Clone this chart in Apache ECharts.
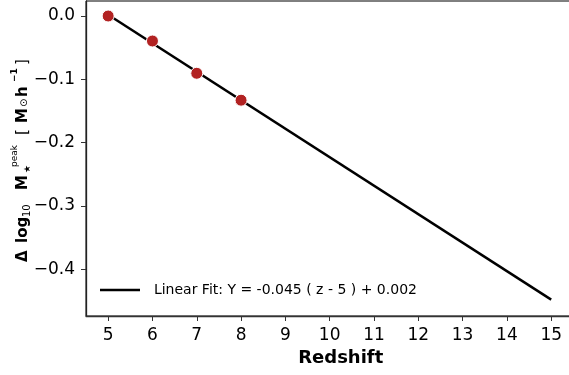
<!DOCTYPE html>
<html>
<head>
<meta charset="utf-8">
<script src="https://cdn.jsdelivr.net/npm/echarts@6/dist/echarts.min.js"></script>
<style>
html,body{margin:0;padding:0;background:#fff;overflow:hidden;}
#chart{width:596px;height:375px;}
</style>
</head>
<body>
<div id="chart"></div>
<script>
// ---- data ----
const redshift = [5, 6, 7, 8];
const deltaLogM = [0.0, -0.0395, -0.0905, -0.133];
const fitZ = [5, 15];
const fitY = [0.002, -0.448];
const xTickValues = [5, 6, 7, 8, 9, 10, 11, 12, 13, 14, 15];
const yTickValues = [0.0, -0.1, -0.2, -0.3, -0.4];
const fitLabel = 'Linear Fit: Y = -0.045 ( z - 5 ) + 0.002';
const xAxisTitle = 'Redshift';

const FONT = '"DejaVu Sans"';
const chart = echarts.init(document.getElementById('chart'), null, {renderer: 'canvas'});

function yFmt(v) {
  if (Math.abs(v) < 1e-9) return '0.0';
  return (v < 0 ? '\u2212' : '') + Math.abs(v).toFixed(1);
}

// rotated y-axis title pieces: [text, start along axis, offset across, fontSize, weight]
const yTitlePieces = [
  ['\u0394', 0, -5, 15, 'bold'],
  ['log', 19, -5, 15, 'bold'],
  ['10', 45, -1, 10, 'normal'],
  ['M', 72, -5, 15, 'bold'],
  ['\u2605', 89, 0, 9, 'normal'],
  ['peak', 95, -13, 9, 'normal'],
  ['[', 127, -5, 15, 'normal'],
  ['M', 139, -5, 15, 'bold'],
  ['\u2299', 155, -4, 10, 'normal'],
  ['h', 165, -5, 15, 'bold'],
  ['\u22121', 180, -13, 9, 'bold'],
  [']', 197, -5, 15, 'normal']
];

const option = {
  animation: false,
  backgroundColor: '#fff',
  grid: {left: 86, top: 1, right: 0.5, bottom: 59, show: true, borderColor: '#000', borderWidth: 1, containLabel: false},
  legend: {
    data: [{name: fitLabel, icon: 'rect'}],
    left: 95, top: 278,
    itemWidth: 40, itemHeight: 2.5,
    itemStyle: {color: '#000', borderWidth: 0},
    formatter: n => '  ' + n,
    textStyle: {fontFamily: FONT, fontSize: 14, color: '#000'}
  },
  xAxis: {
    type: 'value', min: 4.5, max: 16,
    axisLine: {show: true, onZero: false, lineStyle: {color: '#333', width: 1.3}},
    axisTick: {show: true, customValues: xTickValues, length: 5, lineStyle: {color: '#333', width: 1}},
    axisLabel: {customValues: xTickValues, fontFamily: FONT, fontSize: 17, color: '#000', margin: 11},
    splitLine: {show: false},
    name: xAxisTitle, nameLocation: 'middle', nameGap: 30,
    nameTextStyle: {fontFamily: FONT, fontSize: 18, fontWeight: 'bold', color: '#000'}
  },
  yAxis: {
    type: 'value', min: -0.4739, max: 0.0237,
    axisLine: {show: true, onZero: false, lineStyle: {color: '#222', width: 1.3}},
    axisTick: {show: true, customValues: yTickValues, length: 5, lineStyle: {color: '#333', width: 1}},
    axisLabel: {customValues: yTickValues, formatter: yFmt, fontFamily: FONT, fontSize: 17, color: '#000', margin: 11},
    splitLine: {show: false}
  },
  graphic: [{
    type: 'group', x: 28, y: 262, rotation: Math.PI / 2,
    children: yTitlePieces.map(p => ({
      type: 'text', x: p[1], y: p[2],
      style: {text: p[0], fontFamily: FONT, fontSize: p[3], fontWeight: p[4], fill: '#000', align: 'left', verticalAlign: 'middle'}
    }))
  }],
  series: [
    {
      name: fitLabel, type: 'line',
      data: fitZ.map((z, i) => [z, fitY[i]]),
      symbol: 'none', lineStyle: {color: '#000', width: 2.5}, itemStyle: {color: '#000'}, z: 2
    },
    {
      name: 'points', type: 'scatter',
      data: redshift.map((z, i) => [z, deltaLogM[i]]),
      symbolSize: 12,
      itemStyle: {color: '#b22222', borderColor: '#fff', borderWidth: 1, opacity: 1}, z: 3
    }
  ]
};
chart.setOption(option);
</script>
</body>
</html>
